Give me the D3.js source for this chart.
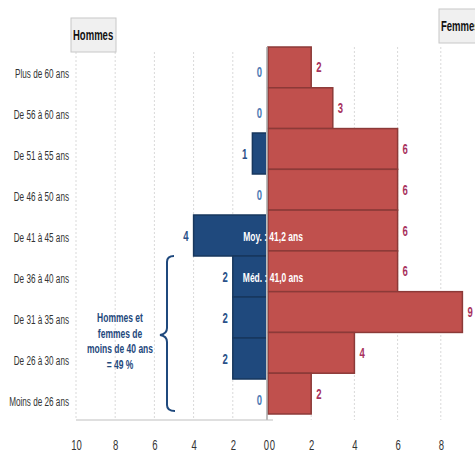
<!DOCTYPE html>
<html><head><meta charset="utf-8">
<script src="https://cdn.jsdelivr.net/npm/d3@7"></script>
<style>
body{margin:0;background:#fff;}
text{font-family:"Liberation Sans",Arial,sans-serif;}
</style></head>
<body><svg id="c" width="475" height="452"></svg>
<script>
const categories = ["Plus de 60 ans","De 56 à 60 ans","De 51 à 55 ans","De 46 à 50 ans","De 41 à 45 ans","De 36 à 40 ans","De 31 à 35 ans","De 26 à 30 ans","Moins de 26 ans"];
const hommes = [0,0,1,0,4,2,2,2,0];
const femmes = [2,3,6,6,6,6,9,4,2];
const leftTicks = [10,8,6,4,2,0];
const rightTicks = [0,2,4,6,8];
const stats = [{cat:"De 41 à 45 ans", label:"Moy. : 41,2 ans"},{cat:"De 36 à 40 ans", label:"Méd. : 41,0 ans"}];
const noteLines = ["Hommes et","femmes de","moins de 40 ans","= 49 %"];

const SX = 0.68; // condensed look
const svg = d3.select("#c");
const blue = "#1f497d", blueEdge = "#17375e", red = "#c0504d", redEdge = "#8c3a38";
const yL = d3.scaleBand().domain(categories).range([51, 420]).padding(0);
const yR = d3.scaleBand().domain(categories).range([47, 414]).padding(0);
const xL = d3.scaleLinear().domain([0,10]).range([272, 76]);
const xR = d3.scaleLinear().domain([0,10]).range([268, 484]);

function ctext(sel, fx, fy){
  return sel.attr("x",0).attr("y",0)
    .attr("transform",(d,i)=>`translate(${fx(d,i)},${fy(d,i)}) scale(${SX},1)`);
}

svg.append("defs").append("clipPath").attr("id","clipL").append("rect")
  .attr("x",0).attr("y",0).attr("width",266).attr("height",452);

// left gridlines
svg.append("g").selectAll("line").data(leftTicks.filter(d=>d>0)).join("line")
  .attr("x1",d=>xL(d)).attr("x2",d=>xL(d)).attr("y1",52).attr("y2",420)
  .attr("stroke","#d9d9d9").attr("stroke-dasharray","2,2");
// right gridlines
svg.append("g").selectAll("line").data(rightTicks.filter(d=>d>0)).join("line")
  .attr("x1",d=>xR(d)).attr("x2",d=>xR(d)).attr("y1",47).attr("y2",420)
  .attr("stroke","#d9d9d9").attr("stroke-dasharray","2,2");

// category labels
ctext(svg.append("g").selectAll("text").data(categories).join("text"),
  ()=>69, d=>yL(d)+yL.bandwidth()/2+6)
  .attr("text-anchor","end").attr("font-size",12).attr("fill","#333").text(d=>d);

// men bars
svg.append("g").attr("clip-path","url(#clipL)").selectAll("rect")
  .data(categories.map((c,i)=>({c,v:hommes[i]})).filter(d=>d.v>0)).join("rect")
  .attr("x",d=>xL(d.v)).attr("width",d=>xL(0)-xL(d.v))
  .attr("y",d=>yL(d.c)).attr("height",yL.bandwidth())
  .attr("fill",blue).attr("stroke",blueEdge).attr("stroke-width",1.5);

// women bars
svg.append("g").selectAll("rect")
  .data(categories.map((c,i)=>({c,v:femmes[i]}))).join("rect")
  .attr("x",xR(0)).attr("width",d=>xR(d.v)-xR(0))
  .attr("y",d=>yR(d.c)).attr("height",yR.bandwidth())
  .attr("fill",red).attr("stroke",redEdge).attr("stroke-width",1.5);

// center axis line
svg.append("line").attr("x1",267).attr("x2",267).attr("y1",47).attr("y2",420)
  .attr("stroke","#a6a6a6").attr("stroke-width",1.5);

// bottom axis
svg.append("line").attr("x1",76).attr("x2",273).attr("y1",420).attr("y2",420).attr("stroke","#bfbfbf");
const axL = svg.append("g").attr("transform","translate(0,420)")
  .call(d3.axisBottom(xL).tickValues(leftTicks).tickSize(0).tickPadding(13).tickFormat(d3.format("d")));
const axR = svg.append("g").attr("transform","translate(0,420)")
  .call(d3.axisBottom(xR).tickValues(rightTicks).tickSize(0).tickPadding(13).tickFormat(d3.format("d")));
[axL,axR].forEach((a,k)=>{
  a.select(".domain").remove();
  a.selectAll("text").attr("font-size",14).attr("fill","#333")
    .style("font-family",'"Liberation Sans",Arial,sans-serif')
    .attr("transform",d=>`translate(${d===0?(k===0?-6:4):0},0) scale(${SX},1)`).attr("x",0)
    .attr("dy","1.2em");
});

// value labels
ctext(svg.append("g").selectAll("text").data(categories.map((c,i)=>({c,v:hommes[i]}))).join("text"),
  d=>Math.min(xL(d.v),267)-5, d=>yL(d.c)+yL.bandwidth()/2+5)
  .attr("text-anchor","end").attr("font-size",14).attr("font-weight","bold")
  .attr("fill",d=>d.v===0?"#4f7bb5":"#2a5189").text(d=>d.v);
ctext(svg.append("g").selectAll("text").data(categories.map((c,i)=>({c,v:femmes[i]}))).join("text"),
  d=>xR(d.v)+5, d=>yR(d.c)+yR.bandwidth()/2+5)
  .attr("text-anchor","start").attr("font-size",14).attr("font-weight","bold")
  .attr("fill","#a8325e").text(d=>d.v);

// stats labels
ctext(svg.append("g").selectAll("text").data(stats).join("text"),
  ()=>273, d=>yL(d.cat)+yL.bandwidth()/2+5)
  .attr("text-anchor","middle").attr("font-size",12.5).attr("font-weight","bold")
  .attr("fill","#fff").text(d=>d.label);

// brace
svg.append("path")
  .attr("d","M174,256 Q167,256 167,262 L167,328 Q167,334 160,335 Q167,336 167,342 L167,405 Q167,411 175,411")
  .attr("fill","none").attr("stroke",blue).attr("stroke-width",2);
ctext(svg.append("g").selectAll("text").data(noteLines).join("text"),
  ()=>120, (d,i)=>322+i*15.5)
  .attr("text-anchor","middle").attr("font-size",12.5).attr("font-weight","bold")
  .attr("fill",blue).text(d=>d);

// legend boxes
const legends = [{label:"Hommes", x:71, y:18, w:45, h:34},{label:"Femmes", x:439, y:9, w:50, h:34}];
const lg = svg.append("g").selectAll("g").data(legends).join("g");
lg.append("rect").attr("x",d=>d.x).attr("y",d=>d.y).attr("width",d=>d.w).attr("height",d=>d.h)
  .attr("fill","#f0f0f0").attr("stroke","#c8c8c8");
ctext(lg.append("text"), d=>d.x+2, d=>d.y+d.h/2+5)
  .attr("font-size",14).attr("font-weight","bold").attr("fill","#111").text(d=>d.label);
</script></body></html>
